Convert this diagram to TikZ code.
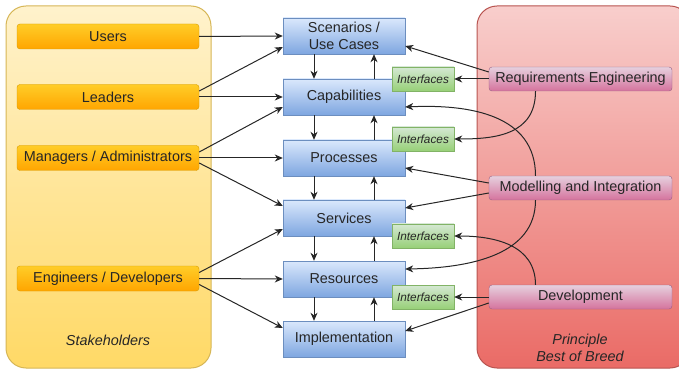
\documentclass[tikz,border=0pt]{standalone}
\usepackage{fontspec}
\setmainfont{Liberation Sans}
\usetikzlibrary{arrows.meta,calc}
\definecolor{ylwA}{HTML}{FFF2CC}
\definecolor{ylwB}{HTML}{FFD966}
\definecolor{ylwD}{HTML}{D6B656}
\definecolor{orA}{HTML}{FFCD28}
\definecolor{orB}{HTML}{FFA500}
\definecolor{orD}{HTML}{D79B00}
\definecolor{blA}{HTML}{DAE8FC}
\definecolor{blB}{HTML}{7EA6E0}
\definecolor{blD}{HTML}{6C8EBF}
\definecolor{grA}{HTML}{D5E8D4}
\definecolor{grB}{HTML}{97D077}
\definecolor{grD}{HTML}{82B366}
\definecolor{rdA}{HTML}{F8CECC}
\definecolor{rdB}{HTML}{EA6B66}
\definecolor{rdD}{HTML}{B85450}
\definecolor{pkA}{HTML}{E6D0DE}
\definecolor{pkB}{HTML}{D5739D}
\definecolor{pkD}{HTML}{996185}
\begin{document}
\begin{tikzpicture}[x=1pt,y=-1pt,
  every node/.style={font=\fontsize{14.4}{17}\selectfont, text=black!85, inner sep=0pt},
  stake/.style={draw=orD, top color=orA, bottom color=orB, rounded corners=3pt, minimum width=182pt, minimum height=25pt},
  layer/.style={draw=blD, top color=blA, bottom color=blB, minimum width=122pt, minimum height=36pt, align=center},
  iface/.style={draw=grD, top color=grA, bottom color=grB, minimum width=62pt, minimum height=24pt, font=\fontsize{11.8}{14}\selectfont\itshape},
  princ/.style={draw=pkD, top color=pkA, bottom color=pkB, rounded corners=3pt, minimum width=183pt, minimum height=24pt},
  conn/.style={draw=black!85, line width=1pt, -{Stealth[length=8pt,width=7pt,inset=2.5pt]}},
  line/.style={draw=black!85, line width=1pt},
  group/.style={rounded corners=20pt, line width=1pt}
]
\useasboundingbox (0,0) rectangle (679,371);
% containers
\path[group, draw=ylwD, top color=ylwA, bottom color=ylwB] (6,6) rectangle (211,368);
\path[group, draw=rdD, top color=rdA, bottom color=rdB] (477,6) rectangle (690,368);
\node[font=\fontsize{14.4}{17}\selectfont\itshape] (stk) at (108,340) {Stakeholders};
\node[font=\fontsize{14.4}{17}\selectfont\itshape, align=center] (pbb) at (580,348) {Principle\\Best of Breed};
% stakeholders
\node[stake] (usr) at (108,36.5) {Users};
\node[stake] (lead) at (108,97) {Leaders};
\node[stake] (mgr) at (108,158) {Managers / Administrators};
\node[stake] (eng) at (108,278.5) {Engineers / Developers};
% layers
\node[layer] (scn) at (344,36) {Scenarios /\\Use Cases};
\node[layer] (cap) at (344,97) {Capabilities};
\node[layer] (prc) at (344,158) {Processes};
\node[layer] (srv) at (344,218) {Services};
\node[layer] (res) at (344,279) {Resources};
\node[layer] (imp) at (344,339) {Implementation};
% layer arrows
\foreach \a/\b in {scn/cap,cap/prc,prc/srv,srv/res,res/imp}{
  \draw[conn] ([xshift=-30pt]\a.south) -- ([xshift=-30pt]\b.north);
  \draw[conn] ([xshift=30pt]\b.north) -- ([xshift=30pt]\a.south);
}
% interfaces
\node[iface] (if1) at (423,79) {Interfaces};
\node[iface] (if2) at (423,139) {Interfaces};
\node[iface] (if3) at (423,236) {Interfaces};
\node[iface] (if4) at (423,297) {Interfaces};
% principles
\node[princ] (req) at (580.5,79) {Requirements Engineering};
\node[princ] (mod) at (580.5,188) {Modelling and Integration};
\node[princ] (dev) at (580.5,297) {Development};
% stakeholder arrows
\draw[conn] (usr.east) -- (scn.west);
\draw[conn] ([yshift=6pt]lead.east) -- ([yshift=-11pt]scn.west);
\draw[conn] (lead.east) -- (cap.west);
\draw[conn] ([yshift=6pt]mgr.east) -- ([yshift=-10pt]cap.west);
\draw[conn] (mgr.east) -- (prc.west);
\draw[conn] ([yshift=-5pt]mgr.east) -- ([yshift=12pt]srv.west);
\draw[conn] ([yshift=6pt]eng.east) -- ([yshift=-11pt]srv.west);
\draw[conn] (eng.east) -- (res.west);
\draw[conn] ([yshift=-6pt]eng.east) -- ([yshift=11pt]imp.west);
% principle arrows
\draw[conn] ([yshift=7pt]req.west) -- ([yshift=-10pt]scn.east);
\draw[conn] (req.west) -- (if1.east);
\draw[conn] ([xshift=-45pt]req.south) .. controls (535.5,135) and (495,139) .. (if2.east);
\draw[conn] ([xshift=-45pt]mod.north) .. controls (535.5,115) and (470,104) .. ([yshift=-10pt]cap.east);
\draw[conn] ([yshift=5pt]mod.west) -- ([yshift=-10pt]prc.east);
\draw[conn] ([yshift=-5pt]mod.west) -- ([yshift=10pt]srv.east);
\draw[conn] ([xshift=-45pt]mod.south) .. controls (535.5,255) and (470,268) .. ([yshift=10pt]res.east);
\draw[conn] ([xshift=-45pt]dev.north) .. controls (535.5,245) and (495,236) .. (if3.east);
\draw[conn] (dev.west) -- (if4.east);
\draw[conn] ([yshift=-6pt]dev.west) -- ([yshift=8pt]imp.east);
\end{tikzpicture}
\end{document}
